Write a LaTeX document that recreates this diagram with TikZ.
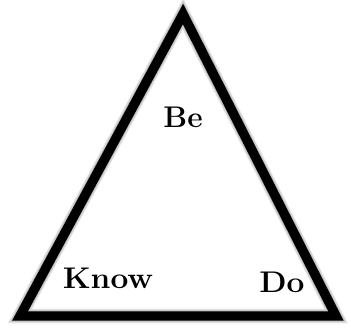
\documentclass[tikz,border=0pt]{standalone}
\usepackage{fontspec}
\begin{document}
\begin{tikzpicture}[x=1bp, y=1bp, >=stealth]
    \useasboundingbox (0,0) rectangle (351,331);

    % 三角形の頂点
    \coordinate (top) at (183, 317);
    \coordinate (left) at (20, 15);
    \coordinate (right) at (336, 15);

    % 影
    \foreach \i in {1,...,6}
      \draw[black, opacity=0.09, line width={4+1.8*\i}, line join=miter, shift={(6,-5)}]
        (top) -- (left) -- (right) -- cycle;

    % 三角形
    \draw[line width=9.5, line join=miter] (top) -- (left) -- (right) -- cycle;

    % ラベル
    \node[anchor=base, font=\fontsize{30}{32}\selectfont\bfseries] (be) at (183, 204) {Be};
    \node[anchor=base, font=\fontsize{30}{32}\selectfont\bfseries, xscale=1.06] (know) at (108, 43) {Know};
    \node[anchor=base, font=\fontsize{30}{32}\selectfont\bfseries, xscale=1.06] (do) at (282, 39) {Do};
  \end{tikzpicture}
\end{document}
